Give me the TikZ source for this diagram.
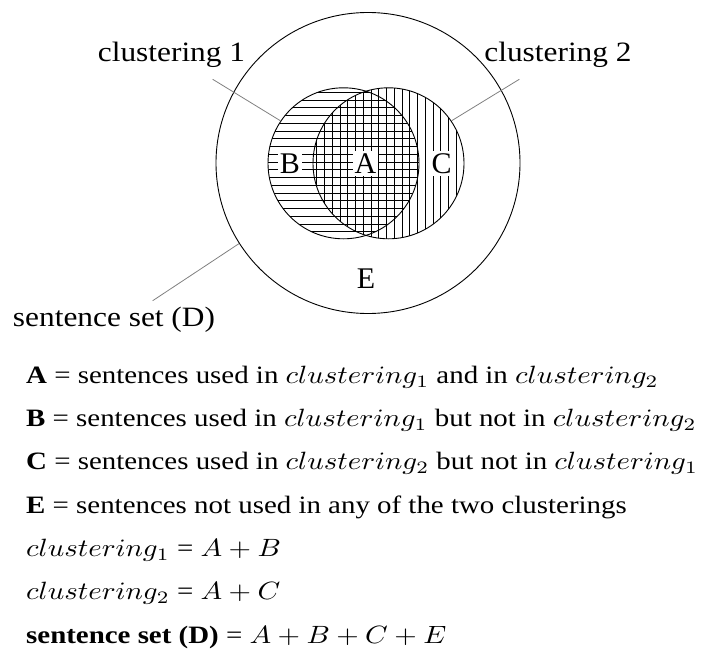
\documentclass[tikz,border=0pt]{standalone}
\usepackage{graphicx}
\usepackage{fontspec}
\setmainfont{Liberation Serif}
\usetikzlibrary{shapes.geometric}
\newcommand{\legendtext}[1]{\scalebox{2.89}[2.5]{\fontsize{10}{12}\selectfont #1}}
\begin{document}
\begin{tikzpicture}[x=1pt,y=-1pt,
  ring/.style={draw, line width=0.9pt, circle, inner sep=0pt, minimum size=151pt},
  leader/.style={draw=black!50, line width=0.8pt},
  hatch/.style={line width=0.8pt},
  lbl/.style={anchor=base, inner sep=0pt, font=\fontsize{28}{32}\selectfont},
  setl/.style={anchor=base, fill=white, inner xsep=1.5pt, inner ysep=2.5pt, font=\fontsize{30}{34}\selectfont},
  txt/.style={anchor=base west, inner sep=0pt}]
\useasboundingbox (0,0) rectangle (701,650);
% outer set
\node[draw, ellipse, line width=0.9pt, minimum width=304pt, minimum height=301pt, inner sep=0pt] (D) at (368,163) {};
% hatching
\begin{scope}
  \clip (343.5,163.3) circle [radius=75.5pt];
  \foreach \k in {-1,...,20} \draw[hatch] (260,{92.3+7.75*\k}) -- (430,{92.3+7.75*\k});
\end{scope}
\begin{scope}
  \clip (388.5,163.3) circle [radius=75.5pt];
  \foreach \k in {-6,...,16} \draw[hatch] ({347.7+7.75*\k},80) -- ({347.7+7.75*\k},250);
\end{scope}
\node[ring] (c1) at (343.5,163.3) {};
\node[ring] (c2) at (388.5,163.3) {};
% region letters
\node[setl] (B) at (290,173.3) {B};
\node[setl] (A) at (365.5,173.3) {A};
\node[setl] (C) at (441.7,173.3) {C};
\node[setl, fill=none] (E) at (366,288) {E};
% labels
\node[lbl] (l1) at (171.5,61.7) {\scalebox{1.12}[1]{clustering 1}};
\node[lbl] (l2) at (558,61.7) {\scalebox{1.12}[1]{clustering 2}};
\node[lbl] (lD) at (114,326.7) {\scalebox{1.12}[1]{sentence set (D)}};
\coordinate (p1) at (212.7,79.3);
\coordinate (p2) at (519.3,79.3);
\coordinate (pD) at (152.7,300.7);
\draw[leader] (p1) -- (c1.146);
\draw[leader] (p2) -- (c2.34);
\draw[leader] (pD) -- (D.212);
% legend
\node[txt] (t1) at (26,383.3) {\legendtext{\textbf{A} = sentences used in $clustering_1$ and in $clustering_2$}};
\node[txt] (t2) at (26,426.6) {\legendtext{\textbf{B} = sentences used in $clustering_1$ but not in $clustering_2$}};
\node[txt] (t3) at (26,469.9) {\legendtext{\textbf{C} = sentences used in $clustering_2$ but not in $clustering_1$}};
\node[txt] (t4) at (26,513.2) {\legendtext{\textbf{E} = sentences not used in any of the two clusterings}};
\node[txt] (t5) at (26,556.5) {\legendtext{$clustering_1$ = $A+B$}};
\node[txt] (t6) at (26,599.8) {\legendtext{$clustering_2$ = $A+C$}};
\node[txt] (t7) at (26,643.1) {\legendtext{\textbf{sentence set (D)} = $A+B+C+E$}};
\end{tikzpicture}
\end{document}
